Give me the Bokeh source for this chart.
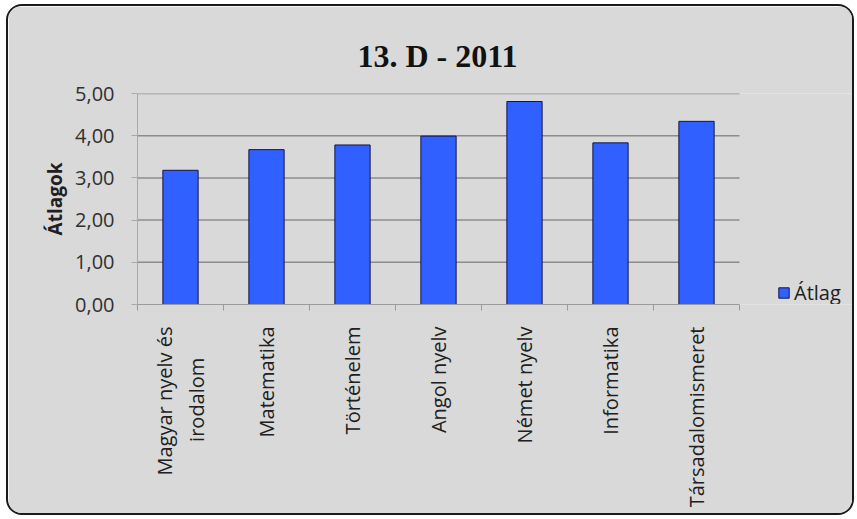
from math import pi
from bokeh.plotting import figure
from bokeh.models import FixedTicker, Range1d, Title, ColumnDataSource, LinearAxis
from bokeh.embed import file_html
from bokeh.resources import INLINE

# ---- data ----
categories = ["Magyar nyelv és\nirodalom\u00a0\u00a0\u00a0\u00a0\u00a0\u00a0", "Matematika",
              "Történelem", "Angol nyelv", "Német nyelv", "Informatika", "Társadalomismeret"]
values = [3.18, 3.67, 3.78, 3.99, 4.81, 3.83, 4.34]
series_name = "Átlag"
y_ticks = [0, 1, 2, 3, 4, 5]
y_tick_labels = ["0,00", "1,00", "2,00", "3,00", "4,00", "5,00"]
title_text = "13. D - 2011"
y_axis_title = "Átlagok"

FONT = "Open Sans"
BG = "#d9d9d9"

# layout constants (pixels)
CANVAS_W, CANVAS_H = 848, 511
LEFT, TOP, BOTTOM = 129, 87, 213
PLOT_W = 602                      # width of the category area
FRAME_W = CANVAS_W - LEFT         # frame runs to the right edge (legend lives there)

n = len(categories)
centers = [i + 0.5 for i in range(n)]          # category slot centres
edges = list(range(n + 1))                      # category slot boundaries
src = ColumnDataSource(dict(x=centers, top=values))
grid_src = ColumnDataSource(dict(y=y_ticks[1:], x0=[0] * (len(y_ticks) - 1),
                                 x1=[n] * (len(y_ticks) - 1)))

p = figure(width=CANVAS_W, height=CANVAS_H,
           x_range=Range1d(0, n * FRAME_W / PLOT_W), y_range=Range1d(0, 5),
           output_backend="svg", toolbar_location=None,
           min_border_left=LEFT, min_border_right=0,
           min_border_top=TOP, min_border_bottom=BOTTOM)
p.styles = {"margin-left": "6px", "margin-top": "4px",
            "border": "2px solid #1a1a1a", "border-radius": "16px",
            "overflow": "hidden"}
p.border_fill_color = BG
p.background_fill_color = BG
p.outline_line_color = None

# horizontal gridlines limited to the category area
p.segment(x0="x0", x1="x1", y0="y", y1="y", source=grid_src,
          line_color="#8c8c8c", line_width=1.5)

r = p.vbar(x="x", top="top", width=0.41, source=src, fill_color="#3060ff",
           line_color="#15154a", line_width=1, legend_label=series_name)

# y axis
p.yaxis.ticker = FixedTicker(ticks=y_ticks)
p.yaxis.major_label_overrides = dict(zip(y_ticks, y_tick_labels))
p.yaxis.major_label_text_font = FONT
p.yaxis.major_label_text_font_size = "20px"
p.yaxis.major_label_text_color = "#303030"
p.yaxis.axis_line_color = "#a8a8a8"
p.yaxis.major_tick_line_color = "#a8a8a8"
p.yaxis.major_tick_out = 6
p.yaxis.major_tick_in = 0
p.yaxis.minor_tick_line_color = None
p.yaxis.major_label_standoff = 17
p.yaxis.axis_label = y_axis_title
p.yaxis.axis_label_text_font = FONT
p.yaxis.axis_label_text_font_style = "bold"
p.yaxis.axis_label_text_font_size = "19px"
p.yaxis.axis_label_text_color = "#202020"
p.yaxis.axis_label_standoff = 4

# x axis: labels at slot centres, ticks at slot boundaries
p.xaxis.bounds = (0, n)
p.xaxis.ticker = FixedTicker(ticks=centers, minor_ticks=edges)
p.xaxis.major_label_overrides = dict(zip(centers, categories))
p.xaxis.major_tick_out = 0
p.xaxis.major_tick_in = 0
p.xaxis.minor_tick_out = 6
p.xaxis.minor_tick_in = 0
p.xaxis.minor_tick_line_color = "#9a9a9a"
p.xaxis.axis_line_color = "#9a9a9a"
p.xaxis.major_label_orientation = pi / 2
p.xaxis.major_label_text_font = FONT
p.xaxis.major_label_text_font_size = "20px"
p.xaxis.major_label_text_color = "#202020"
p.xaxis.major_label_standoff = 16

p.xgrid.visible = False
p.ygrid.visible = False

# legend (right of the category area)
p.legend.location = (640, -2)
p.legend.background_fill_alpha = 0
p.legend.border_line_color = None
p.legend.glyph_width = 13
p.legend.glyph_height = 13
p.legend.label_text_font = FONT
p.legend.label_text_font_size = "20px"
p.legend.label_text_color = "#202020"
p.legend.padding = 0
p.legend.margin = 0
p.legend.spacing = 0
p.legend.label_standoff = 4

# empty spacer between plot area and title
spacer = LinearAxis(ticker=FixedTicker(ticks=[]), axis_line_color=None,
                    major_tick_line_color=None, minor_tick_line_color=None,
                    major_tick_out=10, major_tick_in=0,
                    major_label_text_font_size="0px", major_label_standoff=0)
p.add_layout(spacer, "above")

# title
p.add_layout(Title(text=title_text, align="left", offset=220, vertical_align="top",
                   standoff=36, text_font="Liberation Serif", text_font_style="bold",
                   text_font_size="32px", text_color="#111111"), "above")

open("out.html", "w").write(file_html(p, INLINE))
